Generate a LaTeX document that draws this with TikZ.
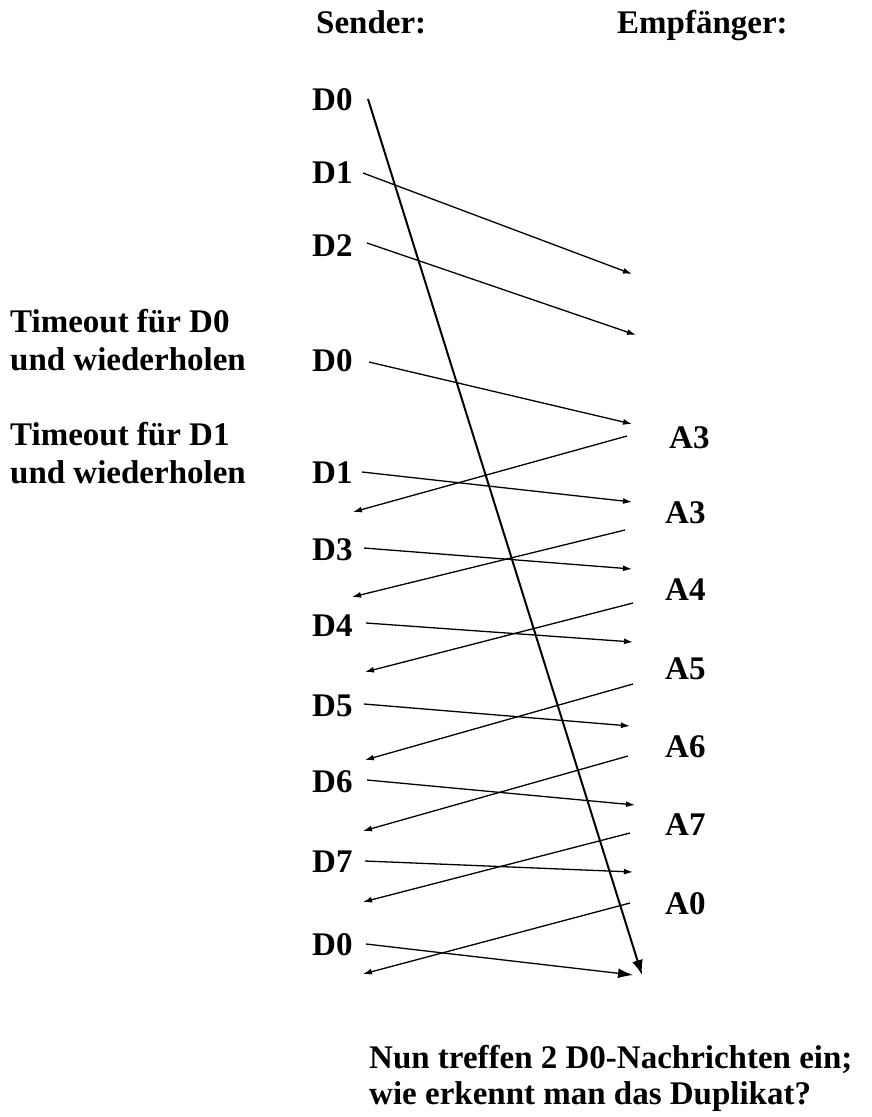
\documentclass[tikz,border=0pt]{standalone}
\usepackage{fontspec}
\setmainfont{Liberation Serif}
\usetikzlibrary{arrows.meta}
\begin{document}
\begin{tikzpicture}[x=1pt,y=-1pt,
  lbl/.style={anchor=base west, inner sep=0pt, font=\fontsize{33}{38}\selectfont\bfseries},
  msg/.style={line width=1.3pt, -{Latex[length=9pt,width=6pt]}},
  lastmsg/.style={line width=1.3pt, -{Latex[length=15pt,width=10pt]}},
  lost/.style={line width=2pt, -{Latex[length=15pt,width=11pt]}}]
\useasboundingbox (0,0) rectangle (872,1117);

% column headings
\node[lbl] (snd) at (316,33) {Sender:};
\node[lbl] (rcv) at (617,33) {Empfänger:};

% sender side
\node[lbl] (s1) at (312,110) {D0};
\node[lbl] (s2) at (312,183) {D1};
\node[lbl] (s3) at (312,256) {D2};
\node[lbl] (s4) at (312,371) {D0};
\node[lbl] (s5) at (312,483) {D1};
\node[lbl] (s6) at (312,560) {D3};
\node[lbl] (s7) at (312,636) {D4};
\node[lbl] (s8) at (312,716) {D5};
\node[lbl] (s9) at (312,792) {D6};
\node[lbl] (s10) at (312,872) {D7};
\node[lbl] (s11) at (312,955) {D0};

% timeout notes
\node[lbl] (to0a) at (10,332) {Timeout für D0};
\node[lbl] (to0b) at (10,370) {und wiederholen};
\node[lbl] (to1a) at (10,445) {Timeout für D1};
\node[lbl] (to1b) at (10,483) {und wiederholen};

% receiver acknowledgements
\node[lbl] (r1) at (669,448) {A3};
\node[lbl] (r2) at (665,523) {A3};
\node[lbl] (r3) at (665,600) {A4};
\node[lbl] (r4) at (665,679) {A5};
\node[lbl] (r5) at (665,757) {A6};
\node[lbl] (r6) at (665,835) {A7};
\node[lbl] (r7) at (665,914) {A0};

% closing question
\node[lbl] (q1) at (369,1068) {Nun treffen 2 D0-Nachrichten ein;};
\node[lbl] (q2) at (369,1104) {wie erkennt man das Duplikat?};

% message end points
\coordinate (lostS) at (368,99);   \coordinate (lostE) at (642,975);
\coordinate (m1S) at (363,173);    \coordinate (m1E) at (632,274);
\coordinate (m2S) at (367,243);    \coordinate (m2E) at (636,335);
\coordinate (m3S) at (369,362);    \coordinate (m3E) at (632,424);
\coordinate (m4S) at (362,472);    \coordinate (m4E) at (632,502);
\coordinate (m5S) at (364,548);    \coordinate (m5E) at (632,569);
\coordinate (m6S) at (366,623);    \coordinate (m6E) at (633,642);
\coordinate (m7S) at (364,704);    \coordinate (m7E) at (630,726);
\coordinate (m8S) at (367,780);    \coordinate (m8E) at (635,805);
\coordinate (m9S) at (365,861);    \coordinate (m9E) at (633,872);
\coordinate (m10S) at (366,944);   \coordinate (m10E) at (633,975);

\coordinate (a1S) at (627,436);    \coordinate (a1E) at (353,512);
\coordinate (a2S) at (625,530);    \coordinate (a2E) at (352,597);
\coordinate (a3S) at (633,603);    \coordinate (a3E) at (365,672);
\coordinate (a4S) at (633,684);    \coordinate (a4E) at (365,760);
\coordinate (a5S) at (628,756);    \coordinate (a5E) at (363,831);
\coordinate (a6S) at (630,833);    \coordinate (a6E) at (363,902);
\coordinate (a7S) at (630,903);    \coordinate (a7E) at (363,974);

% data frames
\draw[lost] (lostS) -- (lostE);
\draw[msg] (m1S) -- (m1E);
\draw[msg] (m2S) -- (m2E);
\draw[msg] (m3S) -- (m3E);
\draw[msg] (m4S) -- (m4E);
\draw[msg] (m5S) -- (m5E);
\draw[msg] (m6S) -- (m6E);
\draw[msg] (m7S) -- (m7E);
\draw[msg] (m8S) -- (m8E);
\draw[msg] (m9S) -- (m9E);
\draw[lastmsg] (m10S) -- (m10E);

% acknowledgements
\draw[msg] (a1S) -- (a1E);
\draw[msg] (a2S) -- (a2E);
\draw[msg] (a3S) -- (a3E);
\draw[msg] (a4S) -- (a4E);
\draw[msg] (a5S) -- (a5E);
\draw[msg] (a6S) -- (a6E);
\draw[msg] (a7S) -- (a7E);
\end{tikzpicture}
\end{document}
